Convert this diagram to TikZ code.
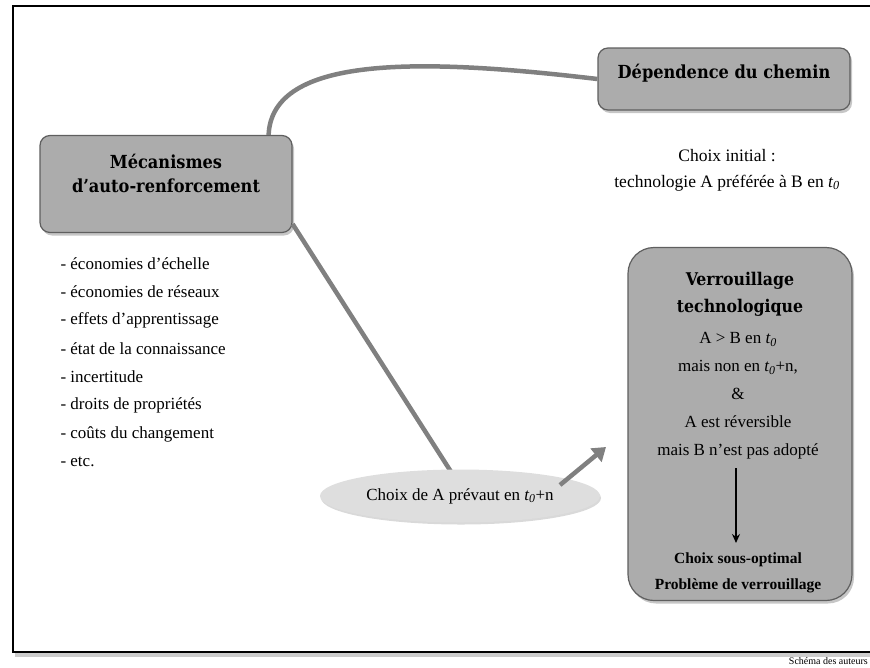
\documentclass[tikz,border=0pt]{standalone}
\usepackage{fontspec}
\setmainfont{Liberation Serif}
\newfontfamily\headfont{DejaVu Serif Condensed}
\usetikzlibrary{shadows,arrows.meta,calc,shapes.geometric}
\definecolor{boxgray}{RGB}{172,172,172}
\definecolor{boxline}{RGB}{95,95,95}
\definecolor{conngray}{RGB}{128,128,128}
\definecolor{ellgray}{RGB}{222,222,222}
\begin{document}
\begin{tikzpicture}[x=1pt,y=-1pt,
  box/.style={draw=boxline, line width=1.2pt, fill=boxgray, rounded corners=10pt,
    drop shadow={opacity=0.45, shadow xshift=2pt, shadow yshift=-3pt}},
  head/.style={font=\headfont\bfseries\fontsize{18}{24}\selectfont, align=center, text=black},
  body/.style={font=\fontsize{17}{28}\selectfont, align=center},
  conn/.style={draw=conngray, line width=4.5pt},
  list/.style={font=\fontsize{17}{20}\selectfont, anchor=west}]
\useasboundingbox (0,0) rectangle (870,667);
% frame
\fill[gray!40] (15,653) rectangle (875,657);
\draw[line width=2.5pt] (13,6) rectangle (880,652);
% boxes
\node[box, minimum width=252pt, minimum height=62pt] (dep) at (724,79) {};
\node[head] (deptxt) at (724,73) {Dépendence du chemin};
\node[box, minimum width=252pt, minimum height=97pt] (mec) at (166,184) {};
\node[head] (mectxt) at (166,173) {Mécanismes\\d’auto-renforcement};
\node[box, rounded corners=26pt, minimum width=224pt, minimum height=353pt] (ver) at (740,424) {};
\node[head, font=\headfont\bfseries\fontsize{17.5}{27}\selectfont] (vertxt) at (740,294) {Verrouillage\\technologique};
% connectors
\draw[conn] ($(mec.north east)+(-24,0)$) .. controls (272,55) and (420,58) .. (dep.west);
\draw[conn] ($(mec.east)+(0,40)$) -- (455,478);
\node[ellipse, fill=ellgray, minimum width=280pt, minimum height=53pt,
  drop shadow={opacity=0.3, shadow xshift=1pt, shadow yshift=-2pt}] (ell) at (460,496) {};
\node[body] (elltxt) at (460,496) {Choix de A prévaut en \textit{t\textsubscript{0}}+n};
\coordinate (arrend) at (606,447);
\draw[conn, -{Triangle[length=13pt,width=17pt]}] (560,485) -- (arrend);
% texts
\node[body, font=\fontsize{17.5}{26}\selectfont] (init) at (727,170) {Choix initial :\\technologie A préférée à B en \textit{t\textsubscript{0}}};
\node[body] (vbody) at (738,396) {A > B en \textit{t\textsubscript{0}}\\mais non en \textit{t\textsubscript{0}}+n,\\\&\\A est réversible\\mais B n’est pas adopté};
\coordinate (va) at (736,468);
\coordinate (vb) at (736,543);
\draw[line width=2pt, -{Stealth[length=9pt,width=8pt]}] (va) -- (vb);
\node[body, font=\bfseries\fontsize{15.5}{26}\selectfont] (concl) at (738,573) {Choix sous-optimal\\Problème de verrouillage};
\node[list] (l1) at (57,264) {- économies d’échelle};
\node[list] (l2) at (57,292) {- économies de réseaux};
\node[list] (l3) at (57,320) {- effets d’apprentissage};
\node[list] (l4) at (57,349) {- état de la connaissance};
\node[list] (l5) at (57,377) {- incertitude};
\node[list] (l6) at (57,405) {- droits de propriétés};
\node[list] (l7) at (57,434) {- coûts du changement};
\node[list] (l8) at (57,462) {- etc.};
\node[font=\fontsize{10}{12}\selectfont, anchor=east, inner sep=1pt] (src) at (869,661) {Schéma des auteurs};
\end{tikzpicture}
\end{document}
